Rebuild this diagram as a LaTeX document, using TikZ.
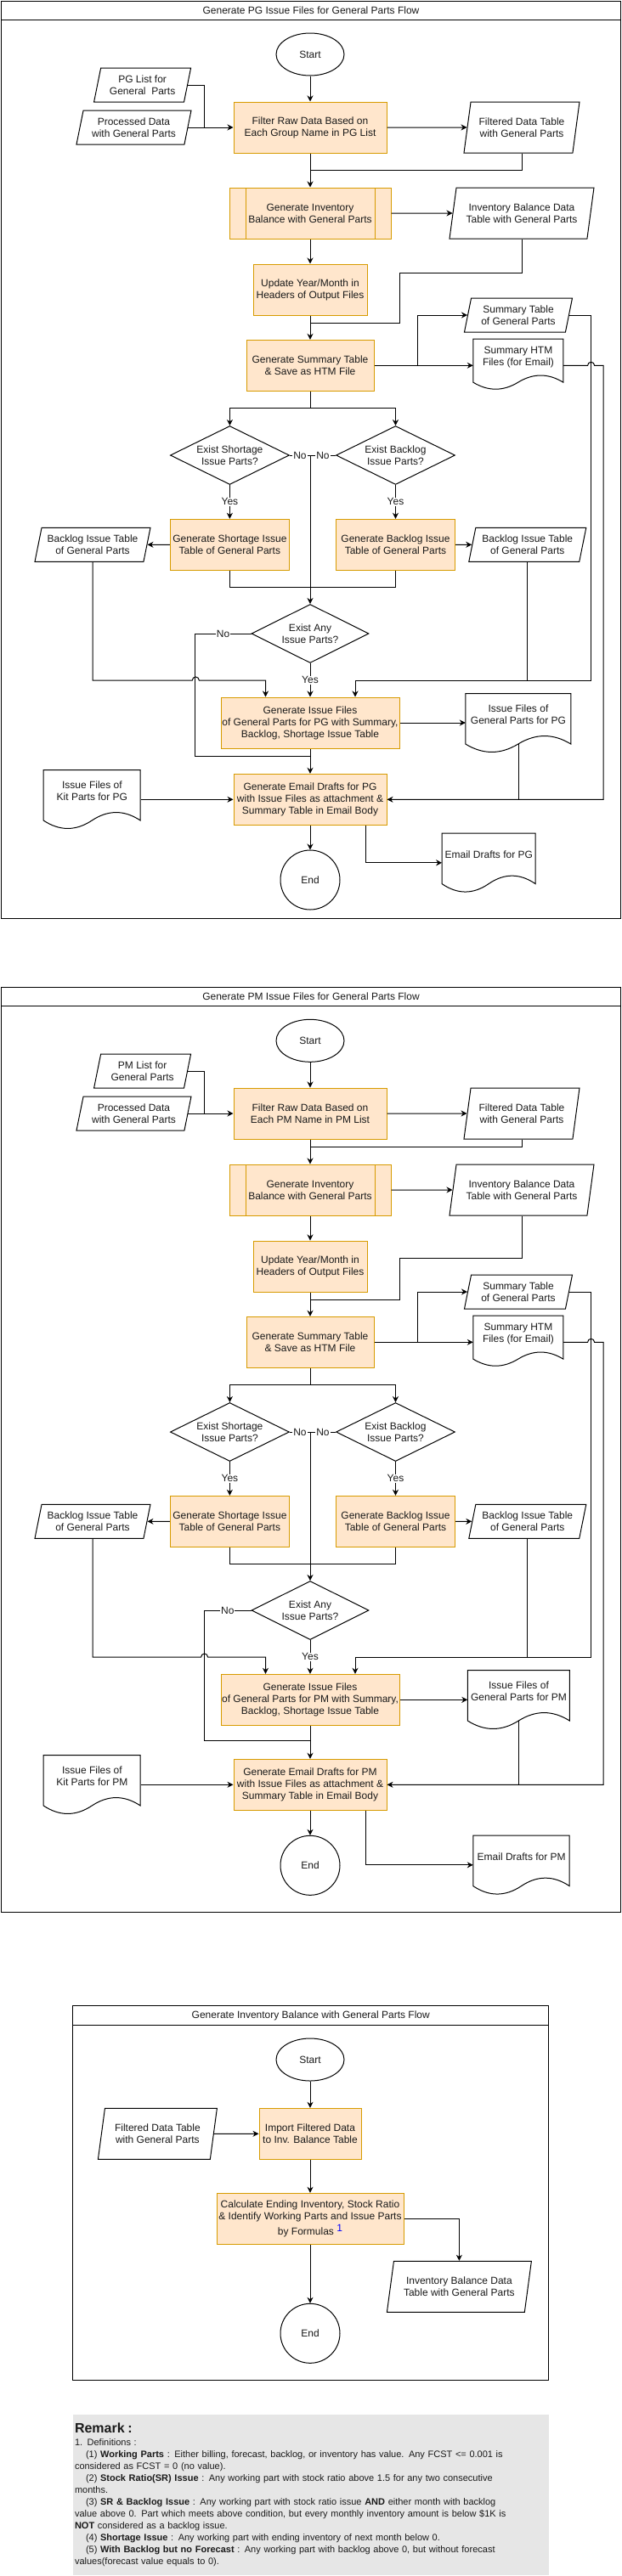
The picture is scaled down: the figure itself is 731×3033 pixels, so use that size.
\documentclass[tikz,border=0pt]{standalone}
\usepackage{fontspec}
\setmainfont{Liberation Sans}
\usetikzlibrary{arrows.meta, positioning, calc, shapes.geometric}
\definecolor{ProcFill}{HTML}{FFE6CC}
\definecolor{ProcLine}{HTML}{D79B00}
\definecolor{RemarkGrey}{HTML}{E6E6E6}
\definecolor{TextInk}{HTML}{1A1A1A}
\newcommand{\docoutline}[3]{\draw[docline,shift={(#1.north west)}] (0,0) -- (#2,0) -- (#2,0.85*#3) .. controls (0.8333*#2,0.67*#3) and (0.6667*#2,0.67*#3) .. (0.5*#2,0.85*#3) .. controls (0.3333*#2,1.03*#3) and (0.1667*#2,1.03*#3) .. (0,0.85*#3) -- cycle;}
\begin{document}
\begin{tikzpicture}[x=1pt,y=-1pt,font=\fontsize{12}{14}\selectfont,every node/.style={text=TextInk},procbox/.style={draw=ProcLine,fill=ProcFill,line width=1pt,align=center,inner sep=1pt},subprocbox/.style={procbox,path picture={\draw[draw=ProcLine,line width=1pt] ([xshift=19pt]path picture bounding box.north west) -- ([xshift=19pt]path picture bounding box.south west) ([xshift=-19pt]path picture bounding box.north east) -- ([xshift=-19pt]path picture bounding box.south east);}},termnode/.style={ellipse,draw=black,line width=1pt,inner sep=0pt},databox/.style={trapezium,trapezium left angle=72,trapezium right angle=108,trapezium stretches body=true,draw=black,line width=1pt,align=center,inner xsep=0pt,inner ysep=1pt},decision/.style={diamond,aspect=2,draw=black,line width=1pt,align=center,inner sep=0pt},docnode/.style={align=center,inner sep=0pt},docline/.style={draw=black,line width=1pt},lanebox/.style={draw=black,line width=1pt,anchor=north west},flowline/.style={draw=black,line width=1pt},arrowline/.style={flowline,-{Stealth[length=7pt,width=7pt]}},branchlabel/.style={fill=white,inner sep=1pt},remarkbox/.style={anchor=north west,fill=RemarkGrey,text width=555pt,inner xsep=2.5pt,inner ysep=10pt,align=left,font=\fontsize{11}{14}\selectfont}]
\fill[white] (0,0) rectangle (731,3033);
\useasboundingbox (0,0) rectangle (731,3033);
\node[lanebox,minimum width=729pt,minimum height=1080pt] (lane1) at (1,1) {};
\draw[flowline] ([yshift=-22.3pt]lane1.north west) -- ([yshift=-22.3pt]lane1.north east);
\node (lane1title) at ([yshift=-11.5pt]lane1.north) {Generate PG Issue Files for General Parts Flow};
\node[termnode,minimum width=80pt,minimum height=50pt] (start1) at (365,64) {Start};
\node[databox,minimum width=114pt,minimum height=40pt] (pglist) at (167.6,100) {PG List for\\General\ \ Parts};
\node[databox,minimum width=135pt,minimum height=40pt] (procdata1) at (157.5,150) {Processed Data\\with General Parts};
\node[procbox,minimum width=180pt,minimum height=60pt] (filter1) at (365,150) {Filter Raw Data Based on\\Each Group Name in PG List};
\node[databox,minimum width=136pt,minimum height=60pt] (filtered1) at (614,150) {Filtered Data Table\\with General Parts};
\node[subprocbox,minimum width=190pt,minimum height=60pt] (inv1) at (365,251) {Generate Inventory\\Balance with General Parts};
\node[databox,minimum width=170pt,minimum height=60pt] (invbal1) at (614,251) {Inventory Balance Data\\Table with General Parts};
\node[procbox,minimum width=134pt,minimum height=60pt] (update1) at (365,341) {Update Year/Month in\\Headers of Output Files};
\node[procbox,minimum width=150pt,minimum height=60pt] (summary1) at (365,430.3) {Generate Summary Table\\\& Save as HTM File};
\node[databox,minimum width=127pt,minimum height=40pt] (sumtable1) at (610,371) {Summary Table\\of General Parts};
\node[docnode,minimum width=106pt,minimum height=42pt] (htm1) at (610,420.3) {Summary HTM\\Files (for Email)};
\docoutline{htm1}{106}{60}
\node[decision,minimum width=140pt,minimum height=69pt] (shortq1) at (270.4,536) {Exist Shortage\\Issue Parts?};
\node[decision,minimum width=140pt,minimum height=69pt] (backq1) at (465.5,536) {Exist Backlog\\Issue Parts?};
\node[procbox,minimum width=140pt,minimum height=60pt] (shortgen1) at (270.4,641.3) {Generate Shortage Issue\\Table of General Parts};
\node[procbox,minimum width=140pt,minimum height=60pt] (backgen1) at (465.5,641.3) {Generate Backlog Issue\\Table of General Parts};
\node[databox,minimum width=136pt,minimum height=40pt] (shorttable1) at (109,641.3) {Backlog Issue Table\\of General Parts};
\node[databox,minimum width=138pt,minimum height=40pt] (backtable1) at (620.8,641.3) {Backlog Issue Table\\of General Parts};
\node[decision,minimum width=138pt,minimum height=69pt] (anyq1) at (365,746) {Exist Any\\Issue Parts?};
\node[procbox,minimum width=210pt,minimum height=60pt] (issuegen1) at (365,851) {Generate Issue Files\\of General Parts for PG with Summary,\\Backlog, Shortage Issue Table};
\node[docnode,minimum width=124pt,minimum height=49pt] (issuefiles1) at (610,841.2) {Issue Files of\\General Parts for PG};
\docoutline{issuefiles1}{124}{70}
\node[procbox,minimum width=180pt,minimum height=60pt] (email1) at (365,941.3) {Generate Email Drafts for PG\\with Issue Files as attachment \&\\Summary Table in Email Body};
\node[docnode,minimum width=114pt,minimum height=49pt] (kitfiles1) at (108.4,931.2) {Issue Files of\\Kit Parts for PG};
\docoutline{kitfiles1}{114}{70}
\node[termnode,minimum width=70pt,minimum height=70pt] (end1) at (365,1036) {End};
\node[docnode,minimum width=110pt,minimum height=49pt] (drafts1) at (575.3,1005.8) {Email Drafts for PG};
\docoutline{drafts1}{110}{70}
\draw[arrowline] (start1) -- (filter1);
\draw[flowline] (pglist.east) -| ([xshift=-34pt]filter1.west);
\draw[arrowline] (procdata1) -- (filter1);
\draw[arrowline] (filter1) -- (filtered1);
\draw[arrowline] (filter1) -- (inv1);
\draw[flowline] (filtered1.south) |- ([yshift=20pt]inv1.north);
\draw[arrowline] (inv1) -- (invbal1);
\draw[arrowline] (inv1) -- (update1);
\draw[flowline] (invbal1.south) |- (470.4,321.3) |- ([yshift=19pt]summary1.north);
\draw[arrowline] (update1) -- (summary1);
\draw[arrowline] (summary1.east) -- (summary1.east -| htm1.west);
\draw[arrowline] ([xshift=51pt]summary1.east) |- (sumtable1.west);
\draw[arrowline] (sumtable1.east) -| (695.6,801) -| ([xshift=53pt]issuegen1.north);
\draw[arrowline] (htm1.east |- summary1.east) -- (691.6,430.3) arc[start angle=180,end angle=0,radius=4pt] -- (710,430.3) |- (email1.east);
\draw[arrowline] (summary1.south) -- ++(0,20) -| (shortq1.north);
\draw[arrowline] (summary1.south) -- ++(0,20) -| (backq1.north);
\coordinate (nojoin1) at (shortq1.east -| anyq1.north);
\draw[flowline] (shortq1.east) -- node[branchlabel] {No} (nojoin1);
\draw[flowline] (backq1.west) -- node[branchlabel] {No} (nojoin1);
\draw[arrowline] (nojoin1) -- (anyq1.north);
\draw[arrowline] (shortq1.south) -- node[branchlabel] {Yes} (shortgen1.north);
\draw[arrowline] (backq1.south) -- node[branchlabel] {Yes} (backgen1.north);
\draw[arrowline] (shortgen1) -- (shorttable1);
\draw[arrowline] (backgen1) -- (backtable1);
\draw[flowline] (shortgen1.south) -- ++(0,20) -| (backgen1.south);
\draw[arrowline] (shorttable1.south) |- (226.3,801) arc[start angle=180,end angle=0,radius=4pt] -| ([xshift=-52.5pt]issuegen1.north);
\draw[flowline] (backtable1.south) -- ++(0,139.7);
\draw[flowline] (anyq1.west) -- node[branchlabel] {No} ++(-65.7,0) |- ([yshift=20pt]email1.north);
\draw[arrowline] (anyq1.south) -- node[branchlabel] {Yes} (issuegen1.north);
\draw[arrowline] (issuegen1.east) -- (issuegen1.east -| issuefiles1.west);
\draw[arrowline] (issuegen1) -- (email1);
\draw[flowline] ([yshift=-10.5pt]issuefiles1.south) |- (email1.east);
\draw[arrowline] (kitfiles1.east |- email1.west) -- (email1.west);
\draw[arrowline] (email1) -- (end1);
\draw[arrowline] ([xshift=65pt]email1.south) |- ([yshift=-10pt]drafts1.west);
\node[lanebox,minimum width=729pt,minimum height=1089.3pt] (lane2) at (1,1161.7) {};
\draw[flowline] ([yshift=-22.6pt]lane2.north west) -- ([yshift=-22.6pt]lane2.north east);
\node (lane2title) at ([yshift=-11.5pt]lane2.north) {Generate PM Issue Files for General Parts Flow};
\node[termnode,minimum width=80pt,minimum height=50pt] (start2) at (365,1225.3) {Start};
\node[databox,minimum width=114pt,minimum height=40pt] (pmlist) at (167.6,1261) {PM List for\\General Parts};
\node[databox,minimum width=135pt,minimum height=40pt] (procdata2) at (157.5,1311) {Processed Data\\with General Parts};
\node[procbox,minimum width=180pt,minimum height=60pt] (filter2) at (365,1311) {Filter Raw Data Based on\\Each PM Name in PM List};
\node[databox,minimum width=136pt,minimum height=60pt] (filtered2) at (614,1311) {Filtered Data Table\\with General Parts};
\node[subprocbox,minimum width=190pt,minimum height=60pt] (inv2) at (365,1401) {Generate Inventory\\Balance with General Parts};
\node[databox,minimum width=170pt,minimum height=60pt] (invbal2) at (614,1401) {Inventory Balance Data\\Table with General Parts};
\node[procbox,minimum width=134pt,minimum height=60pt] (update2) at (365,1491) {Update Year/Month in\\Headers of Output Files};
\node[procbox,minimum width=150pt,minimum height=60pt] (summary2) at (365,1580.3) {Generate Summary Table\\\& Save as HTM File};
\node[databox,minimum width=127pt,minimum height=40pt] (sumtable2) at (610,1521) {Summary Table\\of General Parts};
\node[docnode,minimum width=106pt,minimum height=42pt] (htm2) at (610,1570.3) {Summary HTM\\Files (for Email)};
\docoutline{htm2}{106}{60}
\node[decision,minimum width=140pt,minimum height=69pt] (shortq2) at (270.4,1686) {Exist Shortage\\Issue Parts?};
\node[decision,minimum width=140pt,minimum height=69pt] (backq2) at (465.5,1686) {Exist Backlog\\Issue Parts?};
\node[procbox,minimum width=140pt,minimum height=60pt] (shortgen2) at (270.4,1791.3) {Generate Shortage Issue\\Table of General Parts};
\node[procbox,minimum width=140pt,minimum height=60pt] (backgen2) at (465.5,1791.3) {Generate Backlog Issue\\Table of General Parts};
\node[databox,minimum width=136pt,minimum height=40pt] (shorttable2) at (109,1791.3) {Backlog Issue Table\\of General Parts};
\node[databox,minimum width=138pt,minimum height=40pt] (backtable2) at (620.8,1791.3) {Backlog Issue Table\\of General Parts};
\node[decision,minimum width=138pt,minimum height=69pt] (anyq2) at (365,1896) {Exist Any\\Issue Parts?};
\node[procbox,minimum width=210pt,minimum height=60pt] (issuegen2) at (365,2001.3) {Generate Issue Files\\of General Parts for PM with Summary,\\Backlog, Shortage Issue Table};
\node[docnode,minimum width=120pt,minimum height=49pt] (issuefiles2) at (610.5,1991.2) {Issue Files of\\General Parts for PM};
\docoutline{issuefiles2}{120}{70}
\node[procbox,minimum width=180pt,minimum height=60pt] (email2) at (365,2101.3) {Generate Email Drafts for PM\\with Issue Files as attachment \&\\Summary Table in Email Body};
\node[docnode,minimum width=114pt,minimum height=49pt] (kitfiles2) at (108.4,2091.2) {Issue Files of\\Kit Parts for PM};
\docoutline{kitfiles2}{114}{70}
\node[termnode,minimum width=70pt,minimum height=70pt] (end2) at (365,2196.3) {End};
\node[docnode,minimum width=113.4pt,minimum height=49pt] (drafts2) at (613.7,2185.8) {Email Drafts for PM};
\docoutline{drafts2}{113.4}{70}
\draw[arrowline] (start2) -- (filter2);
\draw[flowline] (pmlist.east) -| ([xshift=-34pt]filter2.west);
\draw[arrowline] (procdata2) -- (filter2);
\draw[arrowline] (filter2) -- (filtered2);
\draw[arrowline] (filter2) -- (inv2);
\draw[flowline] (filtered2.south) |- ([yshift=20pt]inv2.north);
\draw[arrowline] (inv2) -- (invbal2);
\draw[arrowline] (inv2) -- (update2);
\draw[flowline] (invbal2.south) |- (470.4,1481.3) |- ([yshift=19pt]summary2.north);
\draw[arrowline] (update2) -- (summary2);
\draw[arrowline] (summary2.east) -- (summary2.east -| htm2.west);
\draw[arrowline] ([xshift=51pt]summary2.east) |- (sumtable2.west);
\draw[arrowline] (sumtable2.east) -| (695.6,1951) -| ([xshift=53pt]issuegen2.north);
\draw[arrowline] (htm2.east |- summary2.east) -- (691.6,1580.3) arc[start angle=180,end angle=0,radius=4pt] -- (710,1580.3) |- (email2.east);
\draw[arrowline] (summary2.south) -- ++(0,20) -| (shortq2.north);
\draw[arrowline] (summary2.south) -- ++(0,20) -| (backq2.north);
\coordinate (nojoin2) at (shortq2.east -| anyq2.north);
\draw[flowline] (shortq2.east) -- node[branchlabel] {No} (nojoin2);
\draw[flowline] (backq2.west) -- node[branchlabel] {No} (nojoin2);
\draw[arrowline] (nojoin2) -- (anyq2.north);
\draw[arrowline] (shortq2.south) -- node[branchlabel] {Yes} (shortgen2.north);
\draw[arrowline] (backq2.south) -- node[branchlabel] {Yes} (backgen2.north);
\draw[arrowline] (shortgen2) -- (shorttable2);
\draw[arrowline] (backgen2) -- (backtable2);
\draw[flowline] (shortgen2.south) -- ++(0,20) -| (backgen2.south);
\draw[arrowline] (shorttable2.south) |- (236.6,1951) arc[start angle=180,end angle=0,radius=4pt] -| ([xshift=-52.5pt]issuegen2.north);
\draw[flowline] (backtable2.south) -- ++(0,139.7);
\draw[flowline] (anyq2.west) -- node[branchlabel] {No} ++(-55.4,0) |- ([yshift=21pt]email2.north);
\draw[arrowline] (anyq2.south) -- node[branchlabel] {Yes} (issuegen2.north);
\draw[arrowline] (issuegen2.east) -- (issuegen2.east -| issuefiles2.west);
\draw[arrowline] (issuegen2) -- (email2);
\draw[flowline] ([yshift=-10.5pt]issuefiles2.south) |- (email2.east);
\draw[arrowline] (kitfiles2.east |- email2.west) -- (email2.west);
\draw[arrowline] (email2) -- (end2);
\draw[arrowline] ([xshift=65pt]email2.south) |- ([yshift=-10pt]drafts2.west);
\node[lanebox,minimum width=559.9pt,minimum height=441pt] (lane3) at (85.3,2361.3) {};
\draw[flowline] ([yshift=-22.7pt]lane3.north west) -- ([yshift=-22.7pt]lane3.north east);
\node (lane3title) at ([yshift=-12.4pt]lane3.north) {Generate Inventory Balance with General Parts Flow};
\node[termnode,minimum width=80pt,minimum height=50pt] (start3) at (365,2425) {Start};
\node[procbox,minimum width=120pt,minimum height=60pt] (import3) at (365,2512.3) {Import Filtered Data\\to Inv. Balance Table};
\node[databox,minimum width=140pt,minimum height=60pt] (filtered3) at (185.4,2512.3) {Filtered Data Table\\with General Parts};
\node[procbox,minimum width=220pt,minimum height=60pt] (calc3) at (365,2612.3) {Calculate Ending Inventory, Stock Ratio\\\& Identify Working Parts and Issue Parts\\[2pt]by Formulas \raisebox{4pt}{\textcolor{blue}{1}}};
\node[databox,minimum width=170pt,minimum height=60pt] (invbal3) at (540.4,2692.3) {Inventory Balance Data\\Table with General Parts};
\node[termnode,minimum width=70pt,minimum height=70pt] (end3) at (365,2747.3) {End};
\draw[arrowline] (start3) -- (import3);
\draw[arrowline] (filtered3) -- (import3);
\draw[arrowline] (import3) -- (calc3);
\draw[arrowline] (calc3.east) -| (invbal3.north);
\draw[arrowline] (calc3) -- (end3);
\node[remarkbox] (remark) at (85.3,2842.7) {{\fontsize{16}{18}\selectfont\bfseries Remark :}\\[1pt]
1. Definitions :\\
\hspace*{13pt}(1) \textbf{Working Parts} : Either billing, forecast, backlog, or inventory has value. Any FCST <= 0.001 is\\
considered as FCST = 0 (no value).\\
\hspace*{13pt}(2) \textbf{Stock Ratio(SR) Issue} : Any working part with stock ratio above 1.5 for any two consecutive\\
months.\\
\hspace*{13pt}(3) \textbf{SR \& Backlog Issue} : Any working part with stock ratio issue \textbf{AND} either month with backlog\\
value above 0. Part which meets above condition, but every monthly inventory amount is below \$1K is\\
\textbf{NOT} considered as a backlog issue.\\
\hspace*{13pt}(4) \textbf{Shortage Issue} : Any working part with ending inventory of next month below 0.\\
\hspace*{13pt}(5) \textbf{With Backlog but no Forecast} : Any working part with backlog above 0, but without forecast\\
values(forecast value equals to 0).};
\end{tikzpicture}
\end{document}
